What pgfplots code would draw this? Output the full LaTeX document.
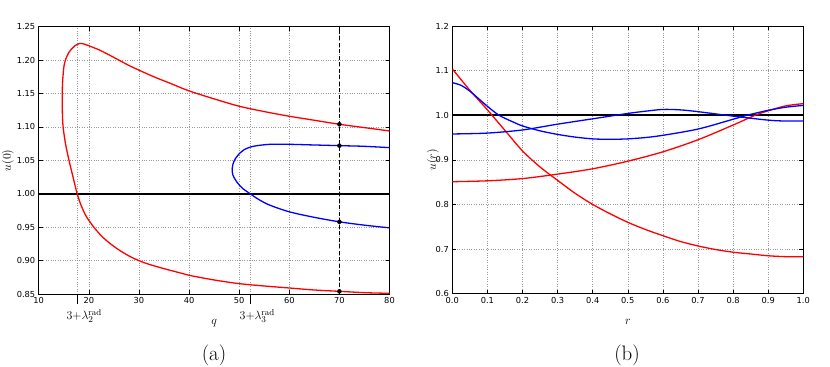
\documentclass[border=0pt]{standalone}
\usepackage{pgfplots}
\pgfplotsset{compat=1.18}
\usepackage{fontspec}
\newfontfamily\tickfont{DejaVu Sans}
\definecolor{mpred}{RGB}{255,0,0}
\definecolor{mpblue}{RGB}{0,0,255}
\pgfplotsset{
  mpstyle/.style={
    scale only axis,
    anchor=south west,
    grid=major,
    grid style={dotted, gray!80, line width=0.6bp},
    axis line style={black, line width=0.8bp},
    tick style={black, line width=0.6bp},
    major tick length=4bp,
    tick align=inside,
    /pgf/number format/assume math mode=true,
    ticklabel style={font=\tickfont\fontsize{8.3}{9}\selectfont},
    xticklabel style={inner ysep=0pt, yshift=-3bp},
    label style={font=\fontsize{11.5}{13}\selectfont},
  },
}
\begin{document}
\begin{tikzpicture}
\path[use as bounding box] (0,0) rectangle (830bp,367bp);
\begin{axis}[mpstyle,
  at={(38.7bp,73bp)}, width=350.8bp, height=267.3bp,
  xmin=10, xmax=80, ymin=0.85, ymax=1.25,
  xtick={10,20,...,80}, ytick={0.85,0.90,...,1.26},
  yticklabel style={/pgf/number format/.cd, fixed, fixed zerofill, precision=2},
  extra x ticks={17.68,52.22},
  extra x tick labels={$3{+}\lambda_2^{\mathrm{rad}}$, $3{+}\lambda_3^{\mathrm{rad}}$},
  extra x tick style={grid=major, tick align=outside, major tick length=10bp, xtick pos=bottom,
     xticklabel style={font=\fontsize{12.5}{14}\selectfont, inner sep=0pt, yshift=-2.2bp, xshift=7bp}},
  xlabel={$q$},
  xlabel style={at={(axis description cs:0.5,-0.1085)}, anchor=center},
  ylabel={$u(0)$},
  ylabel style={at={(axis description cs:-0.0875,0.5)}, anchor=center},
]
\addplot[black, line width=1.5bp] coordinates {(10,1) (80,1)};
\addplot[black, line width=0.8bp, dash pattern=on 4bp off 2.5bp] coordinates {(70,0.85) (70,1.25)};
\addplot[mpred, line width=1.3bp, smooth, tension=0.5] coordinates {
(80,1.094) (75,1.099) (70,1.104) (65,1.110) (60,1.116) (55,1.123) (50,1.131) (45,1.142)
(40,1.154) (36,1.166) (33,1.175) (30,1.185) (28,1.192) (26,1.200) (24,1.208) (22,1.2155)
(20,1.2215) (18.9,1.2243) (18.18,1.2249) (17.7,1.2236) (17.17,1.2211) (16.51,1.2161) (15.98,1.2111)
(15.38,1.2011) (15.05,1.1912) (14.85,1.1762) (14.74,1.163) (14.71,1.1512) (14.71,1.1263) (14.85,1.1013)
(15.35,1.075) (16.05,1.050) (16.85,1.025) (17.68,1.0)
(18.5,0.982) (19.5,0.966) (21,0.950) (22.5,0.937) (24,0.927) (26,0.916) (28.5,0.905) (31,0.897)
(34,0.890) (38,0.882)
(40,0.878) (45,0.871) (50,0.8655) (55,0.862) (60,0.859) (65,0.856) (70,0.854) (75,0.852) (80,0.851)};
\addplot[mpblue, line width=1.3bp, smooth, tension=0.5] coordinates {
(80,1.069) (75,1.071) (70,1.072) (65,1.073) (60,1.074) (56.1,1.074) (52.8,1.071) (51,1.066)
(50.15,1.061) (49.2,1.052) (48.75,1.044) (48.6,1.037) (48.75,1.028) (49.5,1.018) (50.7,1.008)
(52.2,1.0) (54,0.991) (56.1,0.983) (60,0.973) (64.8,0.965) (70,0.958) (75,0.953) (80,0.949)};
\addplot[only marks, mark=*, mark size=2bp, black] coordinates {(70,1.104) (70,1.072) (70,0.958) (70,0.854)};
\end{axis}
\node[font=\fontsize{21}{24}\selectfont] at (214bp,12bp) {(a)};
\begin{axis}[mpstyle,
  at={(452.3bp,73.3bp)}, width=351bp, height=267.7bp,
  xmin=0, xmax=1, ymin=0.6, ymax=1.2,
  xtick={0,0.1,...,1.01}, ytick={0.6,0.7,...,1.21},
  xticklabel style={/pgf/number format/.cd, fixed, fixed zerofill, precision=1},
  yticklabel style={/pgf/number format/.cd, fixed, fixed zerofill, precision=1},
  xlabel={$r$},
  xlabel style={at={(axis description cs:0.5,-0.1046)}, anchor=center},
  ylabel={$u(r)$},
  ylabel style={at={(axis description cs:-0.055,0.5)}, anchor=center},
]
\addplot[black, line width=1.5bp] coordinates {(0,1) (1,1)};
\addplot[mpred, line width=1.3bp, smooth] coordinates {
(0,1.104) (0.05,1.056) (0.1,1.012) (0.15,0.966) (0.2,0.920) (0.25,0.884) (0.3,0.854)
(0.35,0.825) (0.4,0.800) (0.45,0.779) (0.5,0.760) (0.55,0.744) (0.6,0.730) (0.65,0.717)
(0.7,0.707) (0.75,0.699) (0.8,0.693) (0.85,0.689) (0.9,0.685) (0.95,0.683) (1.0,0.683)};
\addplot[mpred, line width=1.3bp, smooth] coordinates {
(0,0.851) (0.1,0.853) (0.2,0.858) (0.3,0.868) (0.4,0.880) (0.5,0.897) (0.6,0.918)
(0.7,0.945) (0.8,0.978) (0.86,0.999) (0.9,1.010) (0.95,1.021) (1.0,1.026)};
\addplot[mpblue, line width=1.3bp, smooth] coordinates {
(0,1.073) (0.025,1.067) (0.05,1.054) (0.075,1.037) (0.1,1.020) (0.133,1.0) (0.17,0.986)
(0.2,0.976) (0.25,0.965) (0.3,0.957) (0.35,0.951) (0.4,0.947) (0.45,0.946) (0.5,0.947)
(0.55,0.950) (0.6,0.955) (0.7,0.969) (0.8,0.991) (0.84,1.0) (0.9,1.011) (0.95,1.018) (1.0,1.022)};
\addplot[mpblue, line width=1.3bp, smooth] coordinates {
(0,0.958) (0.1,0.960) (0.2,0.967) (0.3,0.980) (0.4,0.992) (0.5,1.004) (0.55,1.009) (0.6,1.013)
(0.65,1.012) (0.7,1.008) (0.8,0.998) (0.9,0.989) (0.95,0.987) (1.0,0.987)};
\end{axis}
\node[font=\fontsize{21}{24}\selectfont] at (627bp,12bp) {(b)};
\end{tikzpicture}
\end{document}
